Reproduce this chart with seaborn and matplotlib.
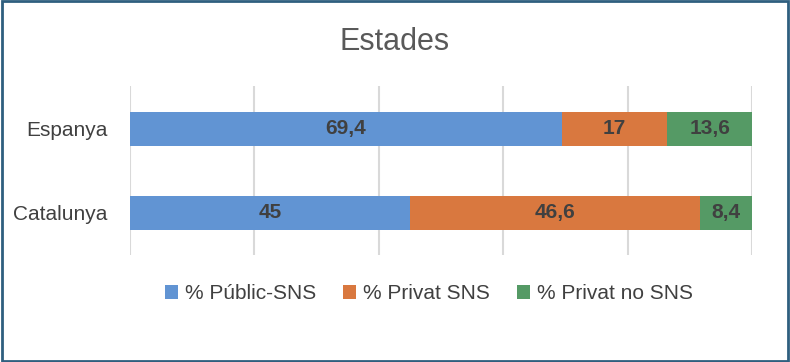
import numpy as np
import pandas as pd
import seaborn as sns
import matplotlib.pyplot as plt
from matplotlib.patches import Patch, Rectangle

# data
regions = ["Espanya", "Catalunya"]
publ_sns = [69.4, 45.0]
priv_sns = [17.0, 46.6]
priv_no_sns = [13.6, 8.4]
series_names = ["% Públic-SNS", "% Privat SNS", "% Privat no SNS"]
colors = ["#6194D3", "#D9783F", "#559A65"]

df = pd.DataFrame({"region": regions, "a": publ_sns, "b": priv_sns, "c": priv_no_sns})
df["ab"] = df["a"] + df["b"]
df["abc"] = df["ab"] + df["c"]

sns.set_style("white")
plt.rcParams["font.family"] = ["Liberation Sans", "DejaVu Sans"]

fig = plt.figure(figsize=(7.9, 3.62), dpi=100)
ax = fig.add_axes([0.1646, 0.2956, 0.7873, 0.4668])
ax.set_axisbelow(True)

# stacked bars via cumulative totals, drawn back to front
for col, c in zip(["abc", "ab", "a"], colors[::-1]):
    sns.barplot(data=df, x=col, y="region", orient="h", color=c, width=0.405,
                saturation=1, ax=ax, zorder=3, linewidth=0, edgecolor="none",
                errorbar=None)

# segment labels
for i, r in df.iterrows():
    starts = [0, r["a"], r["ab"]]
    for s, v in zip(starts, [r["a"], r["b"], r["c"]]):
        txt = f"{v:g}".replace(".", ",")
        ax.text(s + v / 2, i, txt, ha="center", va="center", fontsize=15,
                fontweight="bold", color="#404040", zorder=4)

ax.set_xlim(0, 100)
ax.set_ylim(1.5, -0.51)
ax.set_xticks(np.arange(0, 101, 20))
ax.xaxis.grid(True, color="#D9D9D9", linewidth=1.5, zorder=0)
ax.yaxis.grid(False)
ax.tick_params(axis="x", length=0, labelbottom=False)
ax.tick_params(axis="y", length=0, labelsize=15, labelcolor="#404040", pad=16)
ax.set_xlabel("")
ax.set_ylabel("")
for sp in ax.spines.values():
    sp.set_visible(False)

fig.text(0.5, 0.885, "Estades", ha="center", va="center", fontsize=22,
         color="#595959")

handles = [Patch(facecolor=c, edgecolor="none") for c in colors]
fig.legend(handles, series_names, loc="center", bbox_to_anchor=(0.543, 0.188),
           ncol=3, frameon=False, fontsize=15, handlelength=0.6, handleheight=0.6,
           handletextpad=0.35, columnspacing=1.3, labelcolor="#404040")

# chart border
fig.patches.append(Rectangle((0.002, 0.003), 0.996, 0.994, transform=fig.transFigure,
                             fill=False, edgecolor="#2F5F7F", linewidth=2))

fig.savefig("out.png", dpi=100)
